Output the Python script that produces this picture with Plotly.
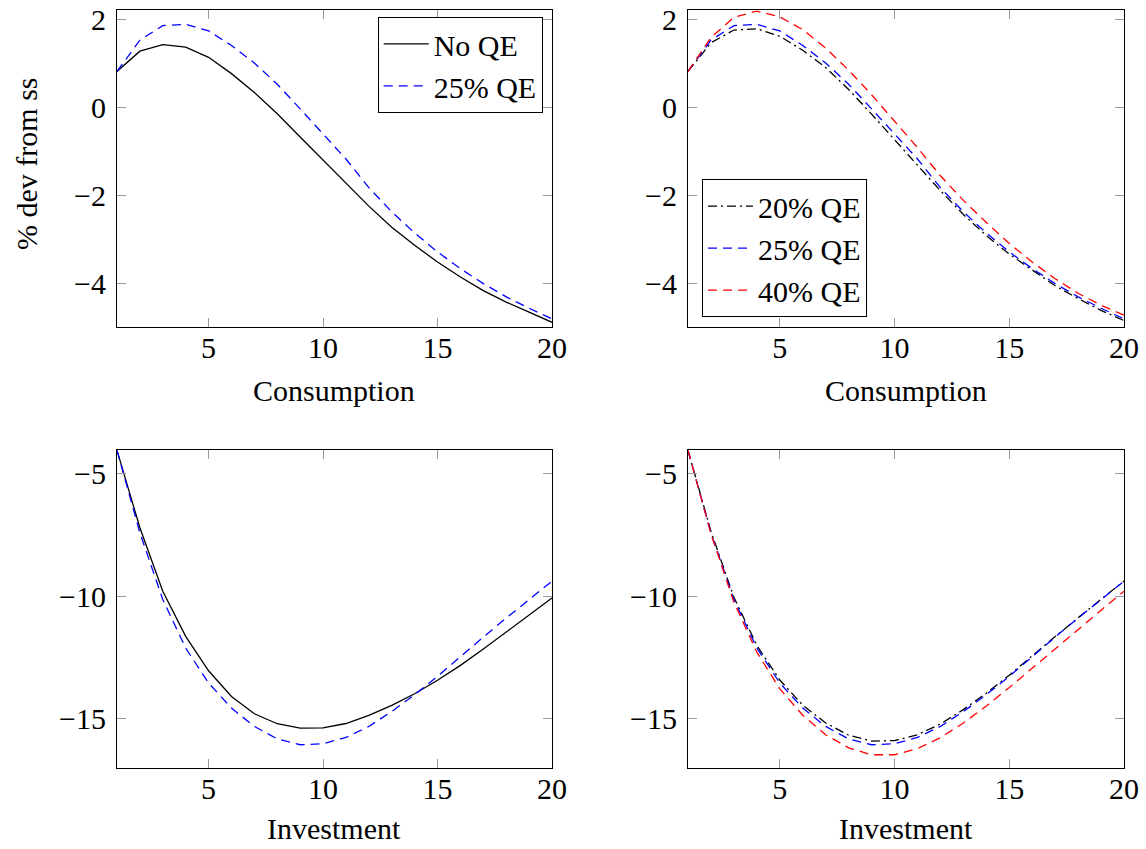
import plotly.graph_objects as go

periods = list(range(1, 21))

# Consumption (% dev from ss)
cons_noqe = [0.81, 1.27, 1.42, 1.36, 1.13, 0.76, 0.33, -0.15, -0.68, -1.21,
             -1.74, -2.25, -2.73, -3.14, -3.52, -3.86, -4.17, -4.43, -4.66, -4.89]
cons_qe25 = [0.81, 1.52, 1.85, 1.88, 1.73, 1.40, 1.00, 0.52, -0.04, -0.60,
             -1.18, -1.83, -2.38, -2.86, -3.29, -3.67, -4.01, -4.31, -4.57, -4.81]
cons_qe20 = [0.81, 1.46, 1.75, 1.78, 1.61, 1.29, 0.90, 0.40, -0.16, -0.74,
             -1.30, -1.90, -2.44, -2.92, -3.34, -3.71, -4.06, -4.35, -4.62, -4.85]
cons_qe40 = [0.81, 1.58, 2.04, 2.18, 2.05, 1.76, 1.34, 0.84, 0.28, -0.33,
             -0.92, -1.56, -2.12, -2.62, -3.10, -3.52, -3.90, -4.23, -4.50, -4.73]

# Investment (% dev from ss)
inv_noqe = [-4.03, -7.20, -9.80, -11.65, -13.06, -14.11, -14.82, -15.23, -15.41, -15.40,
            -15.22, -14.89, -14.48, -14.00, -13.45, -12.84, -12.17, -11.48, -10.79, -10.08]
inv_qe25 = [-4.03, -7.41, -10.14, -12.13, -13.56, -14.59, -15.34, -15.85, -16.09, -16.05,
            -15.79, -15.34, -14.73, -14.04, -13.29, -12.47, -11.68, -10.90, -10.14, -9.39]
inv_qe20 = [-4.03, -7.35, -10.05, -12.02, -13.44, -14.47, -15.20, -15.70, -15.94, -15.92,
            -15.68, -15.24, -14.65, -13.98, -13.24, -12.44, -11.66, -10.89, -10.13, -9.38]
inv_qe40 = [-4.03, -7.45, -10.25, -12.30, -13.80, -14.88, -15.68, -16.22, -16.50, -16.50,
            -16.25, -15.80, -15.20, -14.50, -13.75, -12.95, -12.15, -11.35, -10.58, -9.80]

x_ticks = [5, 10, 15, 20]
cons_yticks = [-4, -2, 0, 2]
inv_yticks = [-15, -10, -5]

FONT = "Liberation Serif"
FS = 30
W, H = 1146, 849
XF = 1146 / 1131            # horizontal compensation observed in the capture
YS, YO = 0.9906, 8.2        # vertical compensation observed in the capture


def px(a):
    return min(a * XF / W, 1.0)


def py(a):
    return 1 - max((a - YO) / YS, 0.0) / H


def fmt(v):
    return ("\u2212" + str(abs(v))) if v < 0 else str(v)


fig = go.Figure()

BLACK_SOLID = dict(color="black", width=1.3)
BLUE_DASH = dict(color="rgb(0,0,255)", width=1.3, dash="9px,6px")
RED_DASH = dict(color="rgb(255,0,0)", width=1.3, dash="9px,6px")
BLACK_DD = dict(color="black", width=1.3, dash="9px,4px,2px,4px")

# top-left
fig.add_trace(go.Scatter(x=periods, y=cons_noqe, mode="lines", name="No QE",
                         line=BLACK_SOLID, xaxis="x", yaxis="y", legend="legend"))
fig.add_trace(go.Scatter(x=periods, y=cons_qe25, mode="lines", name="25% QE",
                         line=BLUE_DASH, xaxis="x", yaxis="y", legend="legend"))
# top-right
fig.add_trace(go.Scatter(x=periods, y=cons_qe20, mode="lines", name="20% QE",
                         line=BLACK_DD, xaxis="x2", yaxis="y2", legend="legend2"))
fig.add_trace(go.Scatter(x=periods, y=cons_qe25, mode="lines", name="25% QE",
                         line=BLUE_DASH, xaxis="x2", yaxis="y2", legend="legend2"))
fig.add_trace(go.Scatter(x=periods, y=cons_qe40, mode="lines", name="40% QE",
                         line=RED_DASH, xaxis="x2", yaxis="y2", legend="legend2"))
# bottom-left
fig.add_trace(go.Scatter(x=periods, y=inv_noqe, mode="lines", name="No QE",
                         line=BLACK_SOLID, xaxis="x3", yaxis="y3", showlegend=False))
fig.add_trace(go.Scatter(x=periods, y=inv_qe25, mode="lines", name="25% QE",
                         line=BLUE_DASH, xaxis="x3", yaxis="y3", showlegend=False))
# bottom-right
fig.add_trace(go.Scatter(x=periods, y=inv_qe20, mode="lines", name="20% QE",
                         line=BLACK_DD, xaxis="x4", yaxis="y4", showlegend=False))
fig.add_trace(go.Scatter(x=periods, y=inv_qe25, mode="lines", name="25% QE",
                         line=BLUE_DASH, xaxis="x4", yaxis="y4", showlegend=False))
fig.add_trace(go.Scatter(x=periods, y=inv_qe40, mode="lines", name="40% QE",
                         line=RED_DASH, xaxis="x4", yaxis="y4", showlegend=False))

xl = [px(117), px(552)]
xr = [px(688), px(1124)]
yt = [py(328), py(11)]
yb = [py(768), py(451)]

axis_common = dict(showline=True, linecolor="black", linewidth=1, mirror="allticks",
                   ticks="inside", ticklen=9, tickwidth=1, tickcolor="#9a9a9a",
                   showgrid=False, zeroline=False, ticklabeloverflow="allow",
                   tickfont=dict(family=FONT, size=FS, color="black"))


def xa(domain, anchor):
    return dict(domain=domain, anchor=anchor, range=[1, 20], tickvals=x_ticks,
                ticktext=[fmt(v) for v in x_ticks], ticklabelstandoff=-6,
                **axis_common)


def ya(domain, anchor, rng, tv):
    return dict(domain=domain, anchor=anchor, range=rng, tickvals=tv,
                ticktext=[fmt(v) for v in tv], ticklabelstandoff=4, **axis_common)


fig.update_layout(
    width=W, height=H,
    margin=dict(l=0, r=0, t=0, b=0),
    paper_bgcolor="white", plot_bgcolor="white",
    font=dict(family=FONT, size=FS, color="black"),
    xaxis=xa(xl, "y"), yaxis=ya(yt, "x", [-5, 2.21], cons_yticks),
    xaxis2=xa(xr, "y2"), yaxis2=ya(yt, "x2", [-5, 2.21], cons_yticks),
    xaxis3=xa(xl, "y3"), yaxis3=ya(yb, "x3", [-17.03, -4.03], inv_yticks),
    xaxis4=xa(xr, "y4"), yaxis4=ya(yb, "x4", [-17.03, -4.03], inv_yticks),
    legend=dict(x=px(542.7), y=py(18), xanchor="right", yanchor="top",
                bgcolor="white", bordercolor="black", borderwidth=1, itemwidth=45,
                font=dict(family=FONT, size=FS), tracegroupgap=0),
    legend2=dict(x=px(702), y=py(318), xanchor="left", yanchor="bottom",
                 bgcolor="white", bordercolor="black", borderwidth=1, itemwidth=45,
                 font=dict(family=FONT, size=FS), tracegroupgap=0),
    showlegend=True,
)

# axis labels
for xc, yc, txt in [((117 + 552) / 2, 391, "Consumption"),
                    ((688 + 1124) / 2, 391, "Consumption"),
                    ((117 + 552) / 2, 829, "Investment"),
                    ((688 + 1124) / 2, 829, "Investment")]:
    fig.add_annotation(x=px(xc), y=py(yc), xref="paper", yref="paper",
                       text=txt, showarrow=False, xanchor="center", yanchor="middle",
                       font=dict(family=FONT, size=FS, color="black"))

fig.add_annotation(x=px(27), y=py(165), xref="paper", yref="paper",
                   text="% dev from ss", showarrow=False, textangle=-90,
                   xanchor="center", yanchor="middle",
                   font=dict(family=FONT, size=FS, color="black"))

fig.write_html(
    "out.html",
    config={"displayModeBar": False},
    post_script="document.body.style.margin='0px';document.body.style.overflow='hidden';",
)
